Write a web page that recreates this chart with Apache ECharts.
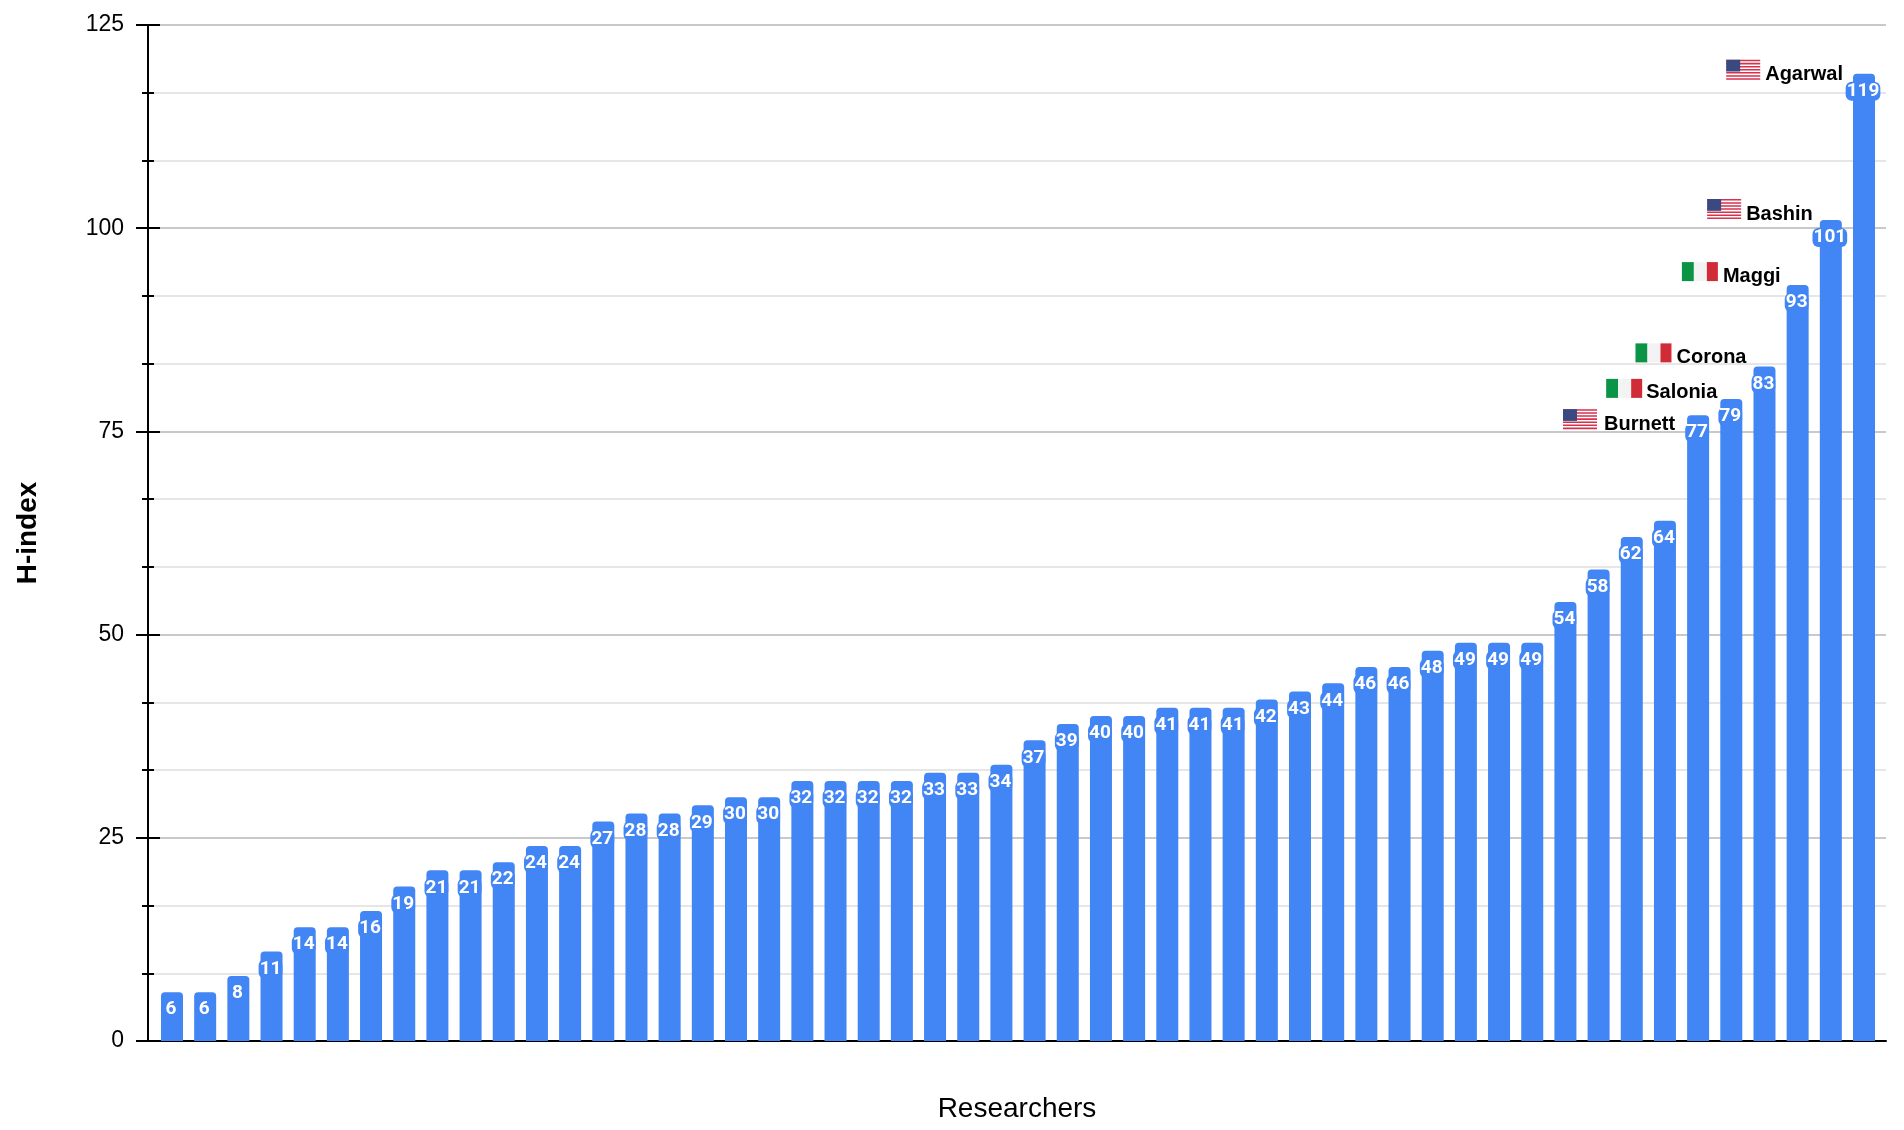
<!DOCTYPE html>
<html><head><meta charset="utf-8">
<style>html,body{margin:0;padding:0;background:#fff}#c{width:1904px;height:1130px}</style>
<script src="https://cdn.jsdelivr.net/npm/echarts@6/dist/echarts.min.js"></script>
</head><body><div id="c"></div>
<script>
const hIndex = [6,6,8,11,14,14,16,19,21,21,22,24,24,27,28,28,29,30,30,32,32,32,32,33,33,34,37,39,40,40,41,41,41,42,43,44,46,46,48,49,49,49,54,58,62,64,77,79,83,93,101,119];
const annotatedBars = [46,47,48,49,50,51];
const annotatedNames = ['Burnett','Salonia','Corona','Maggi','Bashin','Agarwal'];
const annotatedFlags = ['us','it','it','it','us','us'];
const annotatedDx = [-23,-14,-18,-17,-18,-21];
const annotatedDy = [14,-1,-4,-4,-1,6];
const annotatedGap = [7,4,5,5,5,5];
const yTicks = [0,25,50,75,100,125];

const BLUE = '#4285f4';
const SANS = '"Liberation Sans", Arial, sans-serif';
const barPositions = hIndex.map((v,i)=>[i+1,v]);

function flagChildren(kind, x, y){
  const kids = [];
  if (kind === 'it'){
    kids.push({type:'rect',shape:{x:x,y:y,width:12,height:19},style:{fill:'#0b9446'}});
    kids.push({type:'rect',shape:{x:x+12,y:y,width:13,height:19},style:{fill:'#f2f3f2'}});
    kids.push({type:'rect',shape:{x:x+25,y:y,width:11,height:19},style:{fill:'#d12b38'}});
  } else {
    const h = 20/13;
    kids.push({type:'rect',shape:{x:x,y:y,width:34,height:20},style:{fill:'#fff'}});
    for (let s=0;s<13;s+=2){
      kids.push({type:'rect',shape:{x:x,y:y+s*h,width:34,height:h},style:{fill:'#d6304c'}});
    }
    kids.push({type:'rect',shape:{x:x,y:y,width:14,height:h*7+1},style:{fill:'#3a4a80'}});
  }
  return kids;
}

const chart = echarts.init(document.getElementById('c'), null, {renderer:'canvas'});
chart.setOption({
  animation:false,
  backgroundColor:'#fff',
  grid:{left:148,top:25,width:1738,height:1016,containLabel:false,outerBoundsMode:'none'},
  xAxis:{type:'value',min:0.2767,max:52.663,
    axisLine:{show:true,onZero:false,lineStyle:{color:'#000',width:2}},
    axisTick:{show:false},axisLabel:{show:false},splitLine:{show:false},
    name:'Researchers',nameLocation:'middle',nameGap:54,
    nameTextStyle:{fontFamily:SANS,fontSize:28,color:'#000'}},
  yAxis:[
    {type:'value',min:0,max:125,interval:25,
      axisLine:{show:true,lineStyle:{color:'#000',width:2}},
      axisTick:{show:true,length:12,lineStyle:{color:'#000',width:2}},
      minorTick:{show:true,splitNumber:3,length:6,lineStyle:{color:'#000',width:2}},
      axisLabel:{show:true,margin:24,fontFamily:SANS,fontSize:23,color:'#000',
        formatter:(v)=>yTicks.includes(v)?String(v):''},
      splitLine:{show:true,lineStyle:{color:'#c9c9c9',width:2}},
      minorSplitLine:{show:true,lineStyle:{color:'#e6e6e6',width:2}},
      name:'H-index',nameLocation:'middle',nameGap:106,nameRotate:90,
      nameTextStyle:{fontFamily:SANS,fontSize:28,fontWeight:'bold',color:'#000'}},
    {type:'value',min:0,max:125,interval:25,position:'left',
      axisLine:{show:false},
      axisTick:{show:true,inside:true,length:12,lineStyle:{color:'#000',width:2}},
      minorTick:{show:true,splitNumber:3,length:6,lineStyle:{color:'#000',width:2}},
      axisLabel:{show:false},splitLine:{show:false},minorSplitLine:{show:false}}
  ],
  series:[
    {type:'bar',data:barPositions,barWidth:22,z:3,
      itemStyle:{color:BLUE,borderRadius:[4,4,0,0]},
      label:{show:true,position:'insideTop',distance:8,offset:[-1,0],
        formatter:(p)=>String(p.value[1]),
        fontFamily:'Roboto, sans-serif',fontWeight:'bold',fontSize:19,color:'#fff',
        backgroundColor:BLUE,borderRadius:6,padding:[0,1]}},
    {type:'custom',coordinateSystem:'cartesian2d',z:4,
      data:annotatedBars.map((b,i)=>[b+1,hIndex[b],i]),
      renderItem:(params,api)=>{
        const i = api.value(2);
        const c = api.coord([api.value(0),api.value(1)]);
        const right = c[0]+annotatedDx[i], base = c[1]+annotatedDy[i];
        const name = annotatedNames[i], kind = annotatedFlags[i];
        const w = echarts.format.getTextRect(name,'bold 20px "Liberation Sans"').width;
        const flagW = kind==='it'?36:34, flagH = kind==='it'?19:20;
        const flagX = right-w-annotatedGap[i]-flagW, flagY = base-flagH;
        return {type:'group',children:flagChildren(kind,flagX,flagY).concat([
          {type:'text',style:{x:right,y:base+5,text:name,align:'right',verticalAlign:'bottom',
            fill:'#000',font:'bold 20px "Liberation Sans", Arial, sans-serif'}}
        ])};
      }}
  ]
});
</script></body></html>
